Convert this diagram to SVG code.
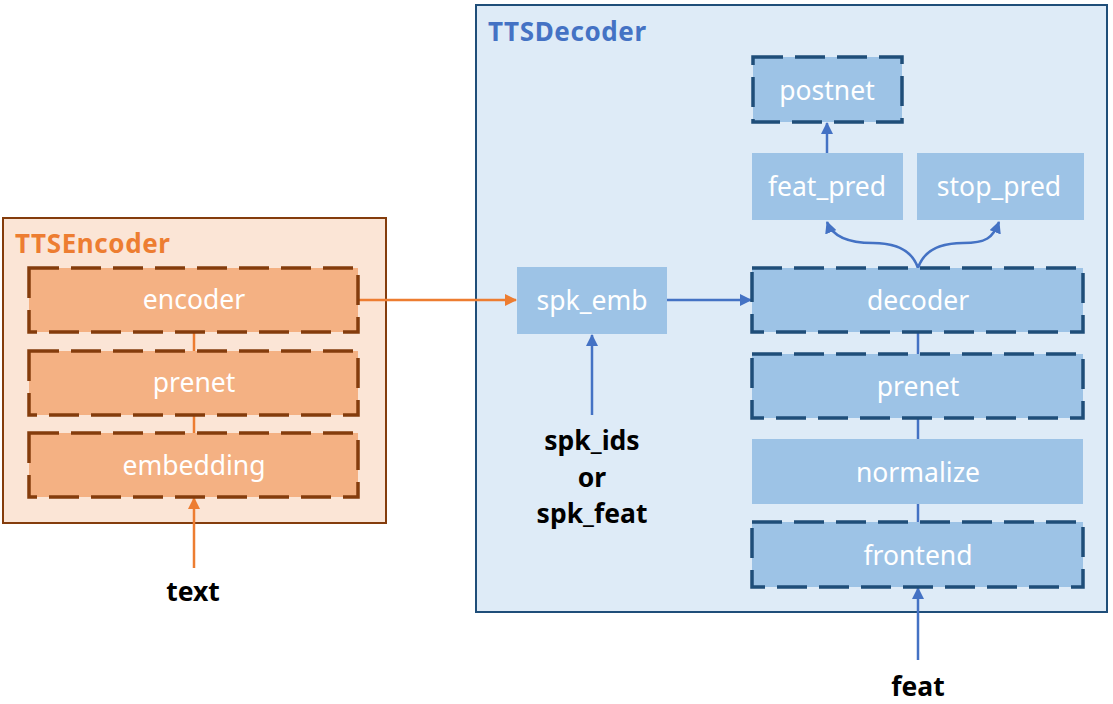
<svg xmlns="http://www.w3.org/2000/svg" width="1113" height="704" viewBox="0 0 1113 704">
<style>
.lbl{font-family:"Microsoft YaHei","Noto Sans","Open Sans",sans-serif;font-size:26.5px;fill:#ffffff;text-anchor:middle}
.in{font-family:"Microsoft YaHei","Noto Sans","Open Sans",sans-serif;font-size:26.5px;font-weight:bold;fill:#000000;text-anchor:middle}
.ttl{font-family:"Microsoft YaHei","Noto Sans","Open Sans",sans-serif;font-size:26px;font-weight:bold;letter-spacing:0.6px}
.eb{fill:#f4b183;stroke:#843c0c;stroke-width:3.5;stroke-dasharray:30 12}
.db{fill:#9dc3e6;stroke:#1f4e79;stroke-width:3.5;stroke-dasharray:30 12}
.ds{fill:#9dc3e6}
.oc{stroke:#ed7d31;stroke-width:2.5;fill:none}
.bc{stroke:#4472c4;stroke-width:2.5;fill:none}
</style>
<defs>
<marker id="ab" viewBox="0 0 12 12" refX="11" refY="6" markerWidth="12" markerHeight="12" orient="auto" markerUnits="userSpaceOnUse"><path d="M0,0 L12,6 L0,12 z" fill="#4472c4"/></marker>
<marker id="ao2" viewBox="0 0 12 12" refX="11" refY="6" markerWidth="12" markerHeight="12" orient="auto" markerUnits="userSpaceOnUse"><path d="M0,0 L12,6 L0,12 z" fill="#ed7d31"/></marker>
</defs>
<g id="ttsencoder">
<rect x="3" y="218" width="383" height="305" fill="#fbe5d6" stroke="#843c0c" stroke-width="2"/>
<text class="ttl" x="15" y="253" fill="#ed7d31">TTSEncoder</text>
</g>
<g id="ttsdecoder">
<rect x="476" y="5" width="631" height="607" fill="#deebf7" stroke="#1f4e79" stroke-width="2"/>
<text class="ttl" x="488" y="41" fill="#4472c4">TTSDecoder</text>
</g>
<g id="connectors">
<line class="oc" x1="194" y1="332" x2="194" y2="351"/>
<line class="oc" x1="194" y1="415" x2="194" y2="433"/>
<line class="oc" x1="194" y1="568" x2="194" y2="498" marker-end="url(#ao2)"/>
<line class="oc" x1="358" y1="300" x2="516" y2="300" marker-end="url(#ao2)"/>
<line class="bc" x1="667" y1="300" x2="751" y2="300" marker-end="url(#ab)"/>
<line class="bc" x1="592" y1="415" x2="592" y2="335" marker-end="url(#ab)"/>
<line class="bc" x1="918" y1="332" x2="918" y2="354"/>
<line class="bc" x1="918" y1="418" x2="918" y2="439"/>
<line class="bc" x1="918" y1="504" x2="918" y2="522"/>
<line class="bc" x1="918" y1="660" x2="918" y2="588" marker-end="url(#ab)"/>
<line class="bc" x1="827" y1="153" x2="827" y2="123" marker-end="url(#ab)"/>
<path class="bc" d="M918,268 C912,250 895,243 873,243 C850,243 833,238 827,222" marker-end="url(#ab)"/>
<path class="bc" d="M918,268 C924,250 941,243 963,243 C986,243 993,238 999,222" marker-end="url(#ab)"/>
</g>
<g id="encoder"><rect class="eb" x="29" y="268" width="329" height="64"/><text class="lbl" x="194" y="309">encoder</text></g>
<g id="enc-prenet"><rect class="eb" x="29" y="351" width="329" height="64"/><text class="lbl" x="194" y="392">prenet</text></g>
<g id="embedding"><rect class="eb" x="29" y="433" width="329" height="64"/><text class="lbl" x="194" y="475">embedding</text></g>
<g id="text-in"><text class="in" x="193" y="601">text</text></g>
<g id="spk_emb"><rect class="ds" x="517" y="267" width="150" height="67"/><text class="lbl" x="592" y="310">spk_emb</text></g>
<g id="spk-in"><text class="in" x="592" y="450">spk_ids</text><text class="in" x="592" y="487">or</text><text class="in" x="592" y="523">spk_feat</text></g>
<g id="postnet"><rect class="db" x="753" y="57" width="149" height="65"/><text class="lbl" x="827" y="100">postnet</text></g>
<g id="feat_pred"><rect class="ds" x="752" y="153" width="151" height="67"/><text class="lbl" x="827" y="196">feat_pred</text></g>
<g id="stop_pred"><rect class="ds" x="917" y="153" width="167" height="67"/><text class="lbl" x="999" y="196">stop_pred</text></g>
<g id="decoder"><rect class="db" x="752" y="268" width="331" height="64"/><text class="lbl" x="918" y="310">decoder</text></g>
<g id="dec-prenet"><rect class="db" x="752" y="354" width="331" height="64"/><text class="lbl" x="918" y="396">prenet</text></g>
<g id="normalize"><rect class="ds" x="752" y="439" width="331" height="65"/><text class="lbl" x="918" y="482">normalize</text></g>
<g id="frontend"><rect class="db" x="752" y="522" width="331" height="65"/><text class="lbl" x="918" y="565">frontend</text></g>
<g id="feat-in"><text class="in" x="918" y="696">feat</text></g>
</svg>
